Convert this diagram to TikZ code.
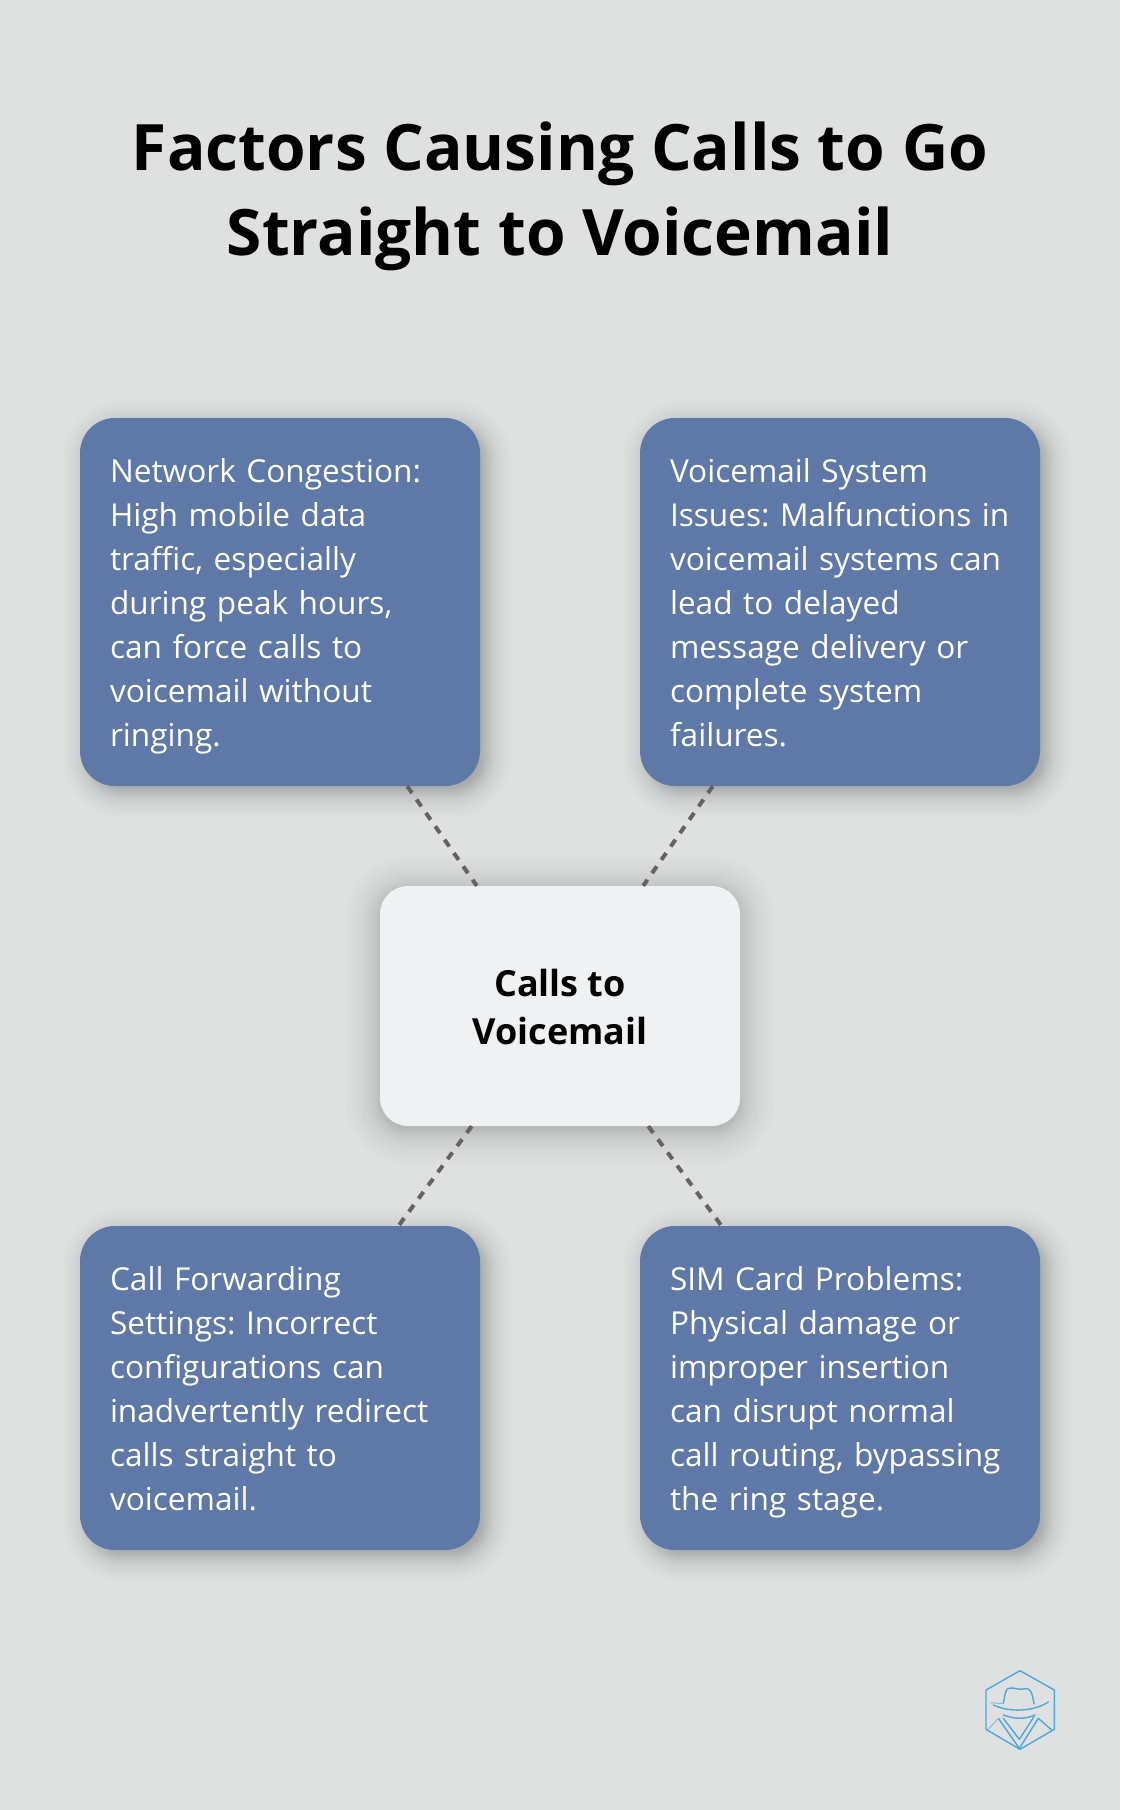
\documentclass[tikz,border=0pt]{standalone}
\usepackage{fontspec}
\setmainfont{Open Sans}
\definecolor{bgc}{HTML}{DFE1E0}
\definecolor{boxblue}{HTML}{5E78A8}
\definecolor{boxlight}{HTML}{EFF1F3}
\definecolor{dashc}{HTML}{636363}
\definecolor{logoc}{HTML}{4BA8D8}
\newcommand{\softshadow}[6]{% x1 y1 x2 y2 radius spread
  \foreach \s in {0,1,...,23}{
    \pgfmathsetmacro{\u}{1-\s/11.5}
    \pgfmathsetmacro{\e}{#6*(0.5*\u+0.5*\u*\u*\u)}
    \pgfmathsetmacro{\rr}{max(2,#5+\e)}
    \fill[black,opacity=0.012,rounded corners=\rr pt]
      ({#1-\e},{#2-\e}) rectangle ({#3+\e},{#4+\e});
  }}
\tikzset{
  x=1pt,y=-1pt,
  bluebox/.style={rectangle,fill=boxblue,rounded corners=35pt,minimum width=400pt,
    text width=400pt,inner xsep=0pt,inner ysep=0pt,align=left,text=white,
    font=\fontsize{31.6}{44}\selectfont,
    execute at begin node={\frenchspacing\leftskip=30pt\rule{0pt}{37.6pt}},
    execute at end node={\strut}},
  centerbox/.style={rectangle,fill=boxlight,rounded corners=28pt,minimum width=360pt,minimum height=240pt,
    align=center,text=black,inner sep=0pt,font=\fontsize{36}{47.5}\selectfont\bfseries},
  titletext/.style={align=center,text=black,inner sep=0pt,font=\fontsize{64}{85}\selectfont\bfseries},
  linkline/.style={draw=dashc,line width=4pt,dash pattern=on 8.3pt off 8pt},
  logoline/.style={draw=logoc,line width=1.4pt,line join=round,line cap=round},
  logofaint/.style={draw=logoc!60!bgc,line width=1pt,line join=round,line cap=round},
}
\begin{document}
\begin{tikzpicture}
\useasboundingbox (0,0) rectangle (1120,1810);
\fill[bgc] (0,0) rectangle (1120,1810);
\softshadow{87}{425}{487}{793}{35}{24}
\softshadow{647}{425}{1047}{793}{35}{24}
\softshadow{87}{1233}{487}{1557}{35}{24}
\softshadow{647}{1233}{1047}{1557}{35}{24}
\softshadow{380}{890}{740}{1130}{28}{34}

\node[titletext] (title) at (560,196) {Factors Causing Calls to Go\\Straight to Voicemail};

\node[bluebox,minimum height=368pt] (net) at (280,602) {Network Congestion:\\High mobile data\\traffic, especially\\during peak hours,\\can force calls to\\voicemail without\\ringing.};
\node[bluebox,minimum height=368pt] (vm) at (840,602) {Voicemail System\\Issues: Malfunctions in\\voicemail systems can\\lead to delayed\\message delivery or\\complete system\\failures.};
\node[bluebox,minimum height=324pt] (fwd) at (280,1388) {Call Forwarding\\Settings: Incorrect\\configurations can\\inadvertently redirect\\calls straight to\\voicemail.};
\node[bluebox,minimum height=324pt] (sim) at (840,1388) {SIM Card Problems:\\Physical damage or\\improper insertion\\can disrupt normal\\call routing, bypassing\\the ring stage.};
\node[centerbox] (ctr) at (560,1006) {\rule{0pt}{29.5pt}Calls to\\Voicemail};

\draw[linkline] (net) -- (ctr);
\draw[linkline] (vm) -- (ctr);
\draw[linkline] (ctr) -- (fwd);
\draw[linkline] (ctr) -- (sim);

\begin{scope}[shift={(960,1640)},x=0.3333pt,y=-0.3333pt]
\draw[logoline] (180,92) -- (283,150) -- (283,268) -- (180,328) -- (78,268) -- (78,150) -- cycle;
\draw[logoline] (130,190) .. controls (136,165) and (134,145) .. (150,144) .. controls (165,143) and (175,150) .. (190,147) .. controls (205,142) and (215,145) .. (222,192);
\draw[logoline] (265,186) .. controls (220,215) and (150,218) .. (100,195);
\draw[logofaint] (92,188) .. controls (105,190) and (120,190) .. (130,190);
\draw[logoline] (130,225) .. controls (165,238) and (195,238) .. (225,225);
\draw[logoline] (130,235) -- (178,298) -- (222,230);
\draw[logoline] (115,235) -- (178,325) -- (235,235) -- (275,270);
\draw[logofaint] (115,235) -- (85,268);
\end{scope}
\end{tikzpicture}
\end{document}
